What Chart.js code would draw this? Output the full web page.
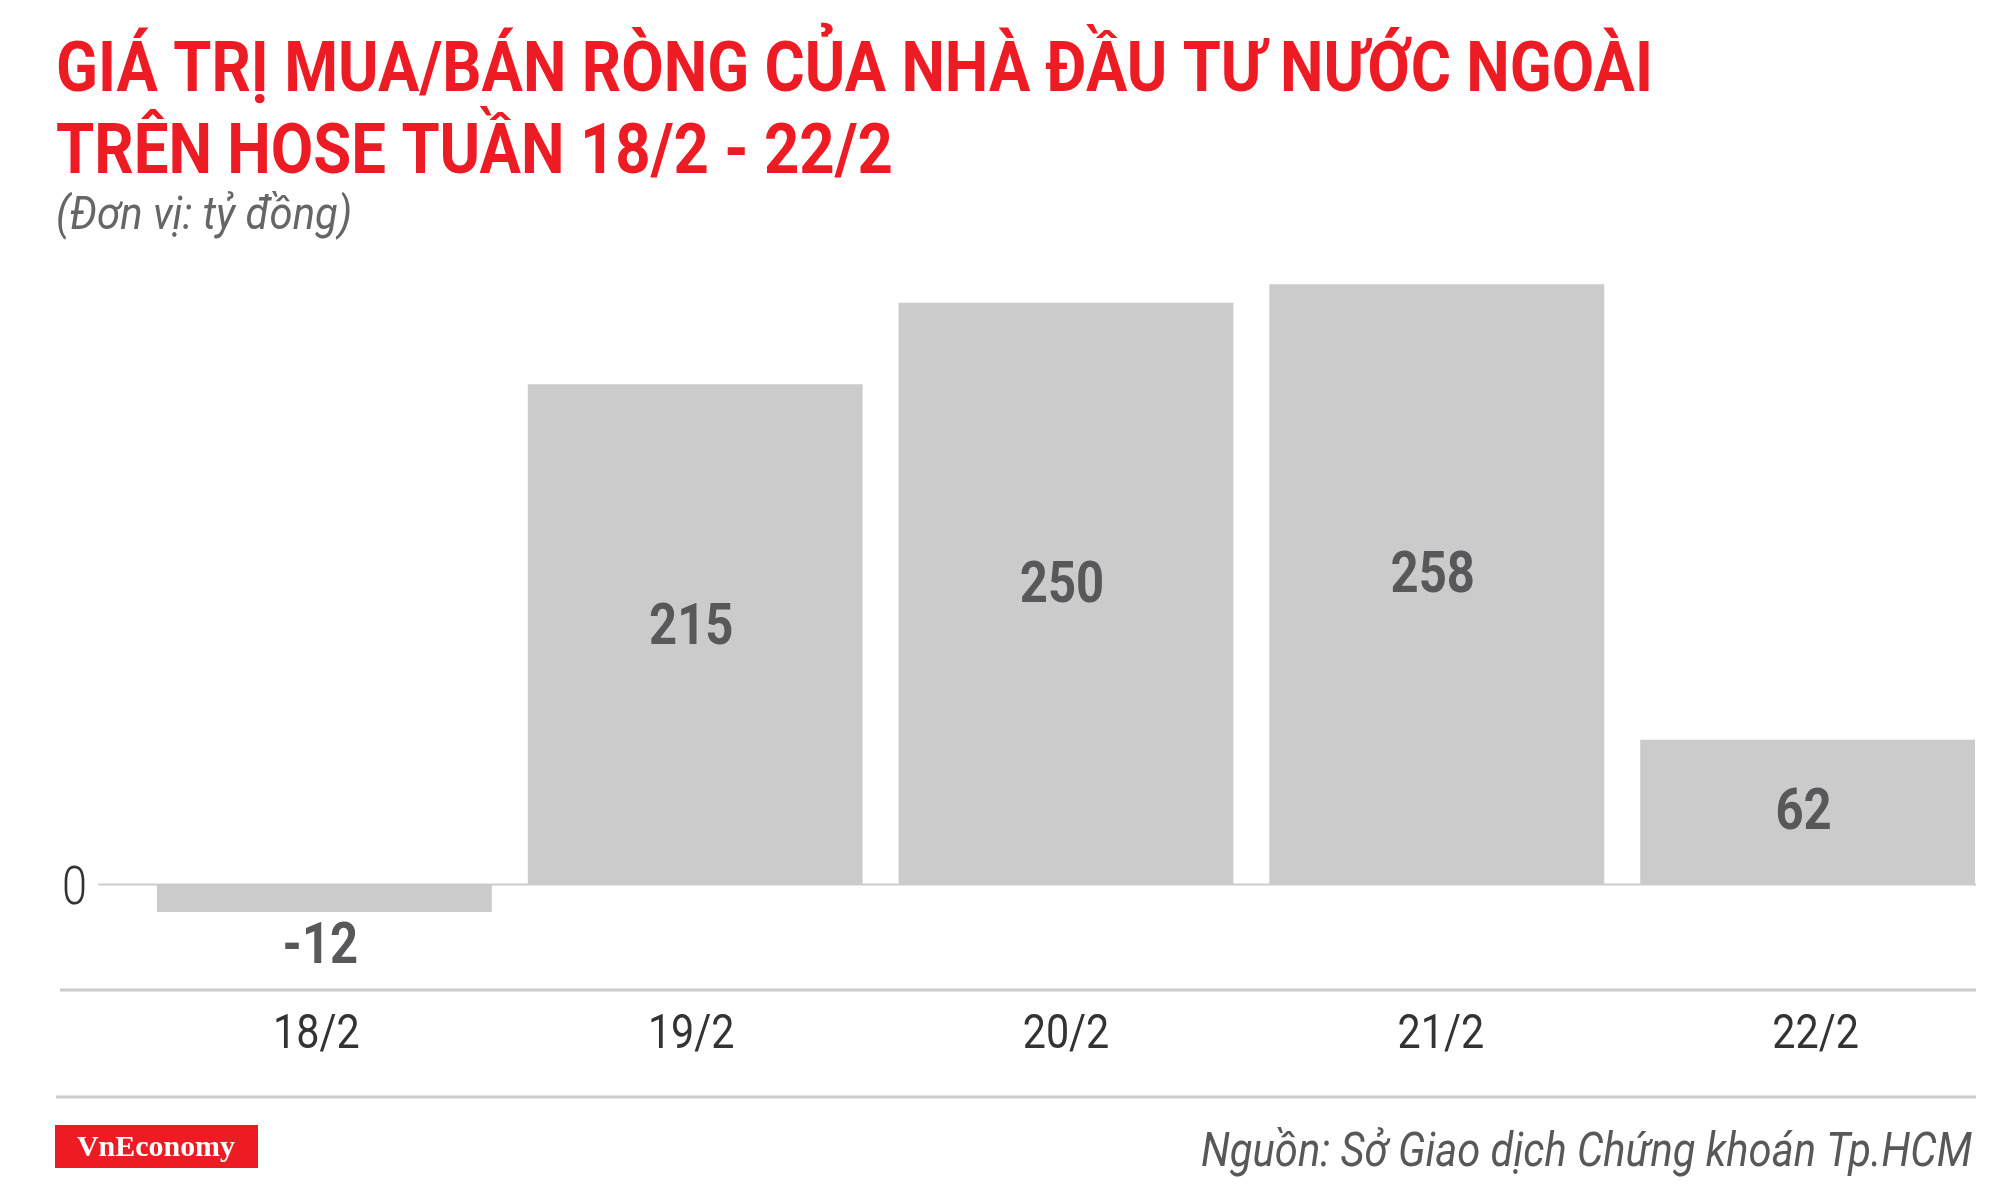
<!DOCTYPE html>
<html>
<head>
<meta charset="utf-8">
<script src="https://cdn.jsdelivr.net/npm/chart.js@4.4.0/dist/chart.umd.min.js"></script>
<style>
  html, body { margin: 0; padding: 0; background: #fff; }
  #wrap { position: relative; width: 2000px; height: 1187px; }
</style>
</head>
<body>
<div id="wrap"><canvas id="myChart" width="2000" height="1187"></canvas></div>
<script>
// data
const categories = ['18/2', '19/2', '20/2', '21/2', '22/2'];
const netValues = [-12, 215, 250, 258, 62];
const yTicks = [0];

const titleLines = ['GIÁ TRỊ MUA/BÁN RÒNG CỦA NHÀ ĐẦU TƯ NƯỚC NGOÀI', 'TRÊN HOSE TUẦN 18/2 - 22/2'];
const unitText = '(Đơn vị: tỷ đồng)';
const sourceText = 'Nguồn: Sở Giao dịch Chứng khoán Tp.HCM';

// draw text squeezed horizontally (fake condensed font)
function squeezeText(ctx, text, x, y, font, color, align, sx, fitW) {
    ctx.save();
    ctx.font = font;
    ctx.fillStyle = color;
    ctx.textBaseline = 'alphabetic';
    ctx.textAlign = align;
    if (fitW) sx = fitW / ctx.measureText(text).width;
    ctx.translate(x, y);
    ctx.scale(sx, 1);
    ctx.fillText(text, 0, 0);
    ctx.restore();
}

const decorPlugin = {
    id: 'decor',
    beforeDatasetsDraw(chart) {
        const ctx = chart.ctx;
        const y = chart.scales.y;
        ctx.save();
        ctx.strokeStyle = '#cccccc';
        // zero line
        yTicks.forEach(t => {
            const py = Math.round(y.getPixelForValue(t)) + 0.5;
            ctx.lineWidth = 2;
            ctx.beginPath(); ctx.moveTo(98, py); ctx.lineTo(1976, py); ctx.stroke();
            squeezeText(ctx, String(t), 87, py + 19, '300 53px Roboto', '#333333', 'right', 0.85);
        });
        // bottom axis line + footer line
        ctx.lineWidth = 3;
        ctx.beginPath(); ctx.moveTo(60, 990); ctx.lineTo(1976, 990); ctx.stroke();
        ctx.beginPath(); ctx.moveTo(56, 1097); ctx.lineTo(1976, 1097); ctx.stroke();
        ctx.restore();
    },
    afterDatasetsDraw(chart) {
        const ctx = chart.ctx;
        const meta = chart.getDatasetMeta(0);
        const x = chart.scales.x;

        // value labels
        meta.data.forEach((bar, i) => {
            const v = netValues[i];
            let ly;
            if (v < 0) ly = bar.y + 51;
            else ly = bar.y + (bar.base - bar.y) * 0.48 + 20;
            squeezeText(ctx, String(v), bar.x - 4, ly, 'bold 57px Roboto', '#58585a', 'center', 0.86);
        });

        // category labels (spread slightly wider than the bars, like the original)
        categories.forEach((c, i) => {
            const cx = x.getPixelForValue(i) + (i - 2) * 4;
            squeezeText(ctx, c, cx, 1048, '48px Roboto', '#333333', 'center', 0.86);
        });

        // title
        squeezeText(ctx, titleLines[0], 56, 91, 'bold 71px Roboto', '#ed1c24', 'left', 1, 1597);
        squeezeText(ctx, titleLines[1], 56, 173, 'bold 71px Roboto', '#ed1c24', 'left', 1, 837);
        squeezeText(ctx, unitText, 56, 229, 'italic 46px Roboto', '#666666', 'left', 1, 296);

        // logo
        ctx.save();
        ctx.fillStyle = '#ed1c24';
        ctx.fillRect(55, 1125, 203, 43);
        ctx.restore();
        squeezeText(ctx, 'VnEconomy', 156, 1156, 'bold 30px "Liberation Serif"', '#ffffff', 'center', 1, 158);

        // source
        squeezeText(ctx, sourceText, 1972, 1166, 'italic 48px Roboto', '#58585a', 'right', 1, 771);
    }
};

const ctx = document.getElementById('myChart').getContext('2d');
const myChart = new Chart(ctx, {
    type: 'bar',
    data: {
        labels: categories,
        datasets: [{
            data: netValues,
            backgroundColor: '#cccbcc',
            borderWidth: 0,
            categoryPercentage: 1,
            barPercentage: 0.903
        }]
    },
    options: {
        responsive: false,
        maintainAspectRatio: false,
        animation: false,
        layout: { padding: { left: 139, right: 7, top: 233, bottom: 210 } },
        scales: {
            x: { display: false },
            y: { display: false, min: -40, max: 280 }
        },
        plugins: {
            legend: { display: false },
            tooltip: { enabled: false }
        }
    },
    plugins: [decorPlugin]
});
</script>
</body>
</html>
